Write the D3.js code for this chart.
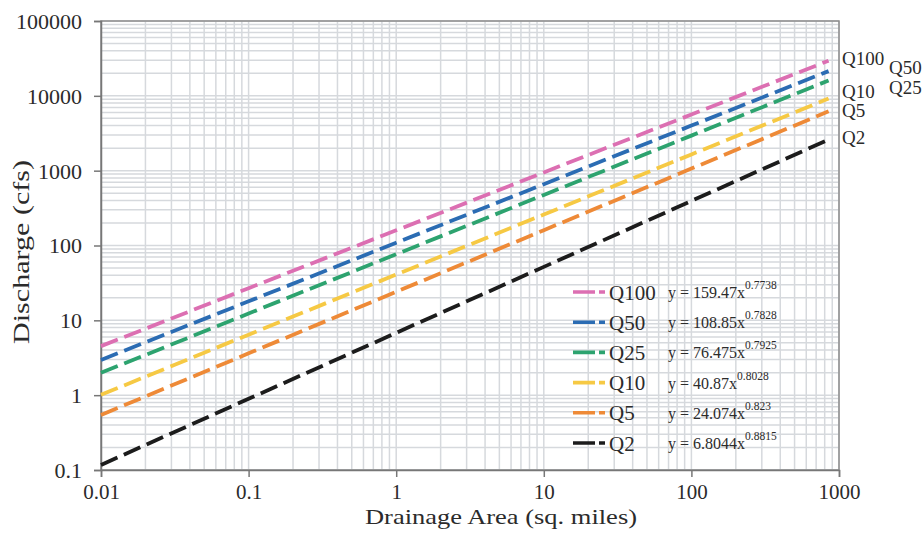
<!DOCTYPE html>
<html>
<head>
<meta charset="utf-8">
<script src="https://cdn.jsdelivr.net/npm/d3@7"></script>
<style>
  html, body { margin: 0; padding: 0; background: #fff; }
  svg { display: block; }
  text { font-family: "Liberation Serif", "Times New Roman", serif; fill: #2b2b2b; }
</style>
</head>
<body>
<svg id="chart" width="924" height="540"></svg>
<script>
// ---- data ----
const areaPts = [0.01, 0.1, 1, 10, 100, 850];
const q100 = [4.52, 26.9, 159.5, 947, 5627, 29470];
const q50  = [2.96, 17.95, 108.9, 660, 4001, 21380];
const q25  = [1.99, 12.33, 76.5, 474, 2940, 16040];
const q10  = [1.01, 6.44, 40.9, 259.5, 1648, 9185];
const q5   = [0.544, 3.62, 24.07, 160.2, 1065, 6200];
const q2   = [0.117, 0.894, 6.80, 51.8, 394, 2600];

const seriesNames = ["Q100", "Q50", "Q25", "Q10", "Q5", "Q2"];
const seriesValues = [q100, q50, q25, q10, q5, q2];
const coefs = ["159.47", "108.85", "76.475", "40.87", "24.074", "6.8044"];
const exps  = ["0.7738", "0.7828", "0.7925", "0.8028", "0.823", "0.8815"];
const colors = ["#dc6fb2", "#2b6cb3", "#2da36f", "#f6c944", "#ee8a37", "#1c1c1c"];

const xTicks = [0.01, 0.1, 1, 10, 100, 1000];
const xTickLabels = ["0.01", "0.1", "1", "10", "100", "1000"];
const yTicks = [0.1, 1, 10, 100, 1000, 10000, 100000];
const yTickLabels = ["0.1", "1", "10", "100", "1000", "10000", "100000"];

// ---- layout ----
const FONT = '"Liberation Serif", "Times New Roman", serif';
const svg = d3.select("#chart");
const L = 101, R = 839, T = 21, B = 470;
const x = d3.scaleLog().domain([0.01, 1000]).range([L, R]);
const y = d3.scaleLog().domain([0.1, 100000]).range([B, T]);

// grid
const minorX = [];
for (let k = -2; k <= 2; k++) for (let m = 1; m <= 9; m++) minorX.push(m * Math.pow(10, k));
minorX.push(1000);
const minorY = [];
for (let k = -1; k <= 4; k++) for (let m = 1; m <= 9; m++) minorY.push(m * Math.pow(10, k));
minorY.push(100000);

const grid = svg.append("g");
grid.selectAll("line.gx").data(minorX).enter().append("line")
  .attr("x1", d => x(d)).attr("x2", d => x(d)).attr("y1", T).attr("y2", B)
  .attr("stroke", "#d6d9dd").attr("stroke-width", 1.5);
grid.selectAll("line.gy").data(minorY).enter().append("line")
  .attr("y1", d => y(d)).attr("y2", d => y(d)).attr("x1", L).attr("x2", R)
  .attr("stroke", "#d6d9dd").attr("stroke-width", 1.5);

// frame
svg.append("rect").attr("x", L).attr("y", T).attr("width", R - L).attr("height", B - T)
  .attr("fill", "none").attr("stroke", "#8c8c8c").attr("stroke-width", 1.5);

// axes
const xAxis = d3.axisBottom(x).tickValues(xTicks).tickFormat((d, i) => xTickLabels[i]).tickSize(7).tickPadding(8);
const gx = svg.append("g").attr("transform", `translate(0,${B})`).call(xAxis);
gx.select(".domain").attr("stroke", "#777").attr("stroke-width", 1.5);
gx.selectAll(".tick line").attr("stroke", "#777").attr("stroke-width", 1.5);
gx.selectAll(".tick text").attr("font-size", 21).attr("font-family", FONT)
  .attr("fill", "#2b2b2b").attr("y", 29).attr("dy", 0);

const yAxis = d3.axisLeft(y).tickValues(yTicks).tickFormat((d, i) => yTickLabels[i]).tickSize(7).tickPadding(12);
const gy = svg.append("g").attr("transform", `translate(${L},0)`).call(yAxis);
gy.select(".domain").attr("stroke", "#777").attr("stroke-width", 1.5);
gy.selectAll(".tick line").attr("stroke", "#777").attr("stroke-width", 1.5);
gy.selectAll(".tick text").attr("font-size", 22).attr("font-family", FONT)
  .attr("fill", "#2b2b2b").attr("x", -19).attr("dy", "0.34em");

// series lines
const line = d3.line().x(d => x(d[0])).y(d => y(d[1]));
const lines = svg.append("g");
seriesValues.forEach((vals, i) => {
  const pts = areaPts.map((a, j) => [a, vals[j]]);
  lines.append("path").datum(pts).attr("d", line)
    .attr("fill", "none").attr("stroke", colors[i]).attr("stroke-width", 3.8)
    .attr("stroke-dasharray", "18,7");
});

// legend
const lg = svg.append("g");
seriesNames.forEach((name, i) => {
  const cy = 292 + i * 30.2;
  lg.append("line").attr("x1", 573).attr("x2", 605).attr("y1", cy).attr("y2", cy)
    .attr("stroke", colors[i]).attr("stroke-width", 3.6).attr("stroke-dasharray", "22,4,6,100");
  lg.append("text").attr("x", 609).attr("y", cy + 7.5).attr("font-size", 21).text(name);
  const t = lg.append("text").attr("x", 668).attr("y", cy + 6).attr("font-size", 16);
  t.append("tspan").text("y = " + coefs[i] + "x");
  t.append("tspan").attr("font-size", 11.5).attr("dy", -9).text(exps[i]);
});

// right-side labels
const rightLabels = [
  { t: "Q100", x: 842, y: 65 },
  { t: "Q50", x: 889, y: 74 },
  { t: "Q25", x: 889, y: 94 },
  { t: "Q10", x: 842, y: 98 },
  { t: "Q5", x: 842, y: 117 },
  { t: "Q2", x: 842, y: 144 }
];
svg.append("g").selectAll("text").data(rightLabels).enter().append("text")
  .attr("x", d => d.x).attr("y", d => d.y).attr("font-size", 19).text(d => d.t);

// axis titles
svg.append("text").attr("x", 501).attr("y", 524).attr("text-anchor", "middle")
  .attr("font-size", 22).attr("textLength", 272).attr("lengthAdjust", "spacingAndGlyphs")
  .text("Drainage Area (sq. miles)");
svg.append("text").attr("transform", "translate(29,252) rotate(-90)").attr("text-anchor", "middle")
  .attr("font-size", 23).attr("textLength", 184).attr("lengthAdjust", "spacingAndGlyphs")
  .text("Discharge (cfs)");
</script>
</body>
</html>
